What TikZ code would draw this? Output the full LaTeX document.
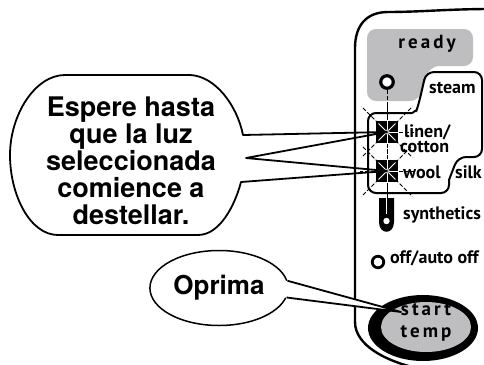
\documentclass[tikz,border=0pt]{standalone}
\usepackage{fontspec}
\setmainfont{TeX Gyre Heros}
\newfontfamily\panelfont{PT Sans}
\newfontfamily\spacedfont[LetterSpace=16]{PT Sans}
\usetikzlibrary{shapes.geometric,calc}
\definecolor{panelgray}{RGB}{190,190,192}
\tikzset{
  bubble/.style={line width=1.8pt, line join=round},
  panel/.style={line width=2.4pt},
  boxline/.style={line width=2pt},
  ray/.style={line width=0.8pt, dash pattern=on 4pt off 2pt},
  lbl/.style={font=\panelfont\bfseries\fontsize{18}{18}\selectfont, anchor=base west, inner sep=0pt},
  spaced/.style={font=\spacedfont\bfseries\fontsize{19}{19}\selectfont, anchor=base, inner sep=0pt},
  bigtxt/.style={font=\bfseries\fontsize{27}{27}\selectfont, align=center, inner sep=0pt},
  lamp/.style={circle, draw, fill=white, inner sep=0pt},
}
\begin{document}
\begin{tikzpicture}[x=1pt, y=-1pt, font=\bfseries]
  \useasboundingbox (0,0) rectangle (484,364);
  \clip (0,0) rectangle (484,364);
  \def\raylen{27}
  \def\diaglen{36}

  % Marco del panel
  \draw[panel] (490,9) .. controls (450,9) and (420,12) .. (388,12)
    .. controls (366,12) and (355,26) .. (355,48) -- (355,322)
    .. controls (355,345) and (385,362) .. (425,370);

  % Zona gris "ready"
  \fill[panelgray, rounded corners=9pt] (367,101) -- (367,29) -- (473,29) -- (473,66)
    -- (430,66) -- (419,101) -- cycle;
  \node[spaced] (readytxt) at (427,48) {ready};
  \node[lamp, line width=3.2pt, minimum size=12.5pt] (readylamp) at (387,82) {};

  % Caja steam / linen / wool
  \draw[boxline, rounded corners=8pt] (368,150) -- (368,113) -- (404,113)
    .. controls (413,113) and (417,109) .. (419,103) -- (426,72) -- (482,72)
    -- (482,157) -- (458,157) -- (452,172) .. controls (449,180) and (449,186) .. (449,193)
    -- (368,193) -- cycle;

  % Luces
  \coordinate (linenlamp) at (387,132);
  \coordinate (woollamp) at (387,171);
  \coordinate (synthtop) at (387,198);

  % Etiquetas
  \node[lbl] (steamtxt) at (429,93) {steam};
  \node[lbl] (linentxt) at (404,137) {linen/};
  \node[lbl] (cottontxt) at (400,152) {cotton};
  \node[lbl] (wooltxt) at (403,178) {wool};
  \node[lbl] (silktxt) at (455,178) {silk};
  \node[lbl] (synthtxt) at (403,219) {synthetics};
  \node[lbl] (offtxt) at (390,263) {off/auto off};

  % Destellos
  \draw[ray] (readylamp.south) -- (synthtop);
  \foreach \c in {linenlamp, woollamp} {
    \foreach \a in {0,90,180,270}
      \draw[ray] (\c) -- ++(\a:\raylen);
    \foreach \a in {45,135,225,315}
      \draw[ray] (\c) -- ++(\a:\diaglen);
    \fill (\c) +(-11,-11) rectangle +(11,11);
    \foreach \a in {0,45,...,315}
      \draw[white, line width=0.8pt] (\c) -- ++(\a:12);
    \fill[gray!55] (\c) circle (2.5);
  }

  % Icono synthetics
  \fill (379,198) -- (379,222) .. controls (379,235) and (394,235) .. (394,222) -- (394,198) -- cycle;
  \fill[white] (386.5,221) circle (3.2);
  \draw[white, line width=1pt] (386.5,198) -- (386.5,214);

  % Luz off
  \node[lamp, line width=2.8pt, minimum size=11.5pt] (offlamp) at (378,262) {};

  % Boton start temp
  \node[ellipse, fill=black, minimum width=110pt, minimum height=66pt, inner sep=0pt] (btn) at (423,328) {};
  \node[ellipse, fill=panelgray, minimum width=90pt, minimum height=50pt, inner sep=0pt] (btnface) at (426,327) {};
  \coordinate (start) at (401,312);

  % Globo grande
  \draw[bubble] (243,135) -- (linenlamp) -- (246,158) -- (woollamp) -- (241,182)
    .. controls (235,205) and (220,235) .. (198,235) -- (58,235)
    .. controls (30,235) and (10,195) .. (10,155)
    .. controls (10,115) and (35,75) .. (65,75) -- (190,75)
    .. controls (215,76) and (237,105) .. (243,135) -- cycle;
  \node[bigtxt] (waittxt) at (131,161) {Espere hasta\\que la luz\\seleccionada\\comience a\\destellar.};

  % Globo Oprima
  \node[ellipse, draw, line width=1.5pt, minimum width=122pt, minimum height=75pt,
        font=\bfseries\fontsize{26}{26}\selectfont] (oprima) at (219,288) {Oprima};
  \fill[white] (oprima.6) -- (start) -- (oprima.-8) -- ++(-3,0) -- ($(oprima.6)+(-3,0)$) -- cycle;
  \draw[bubble] (oprima.6) -- (start) -- (oprima.-8);

  \node[spaced] (starttxt) at (426,315) {start};
  \node[spaced] (temptxt) at (426,337) {temp};
\end{tikzpicture}
\end{document}
